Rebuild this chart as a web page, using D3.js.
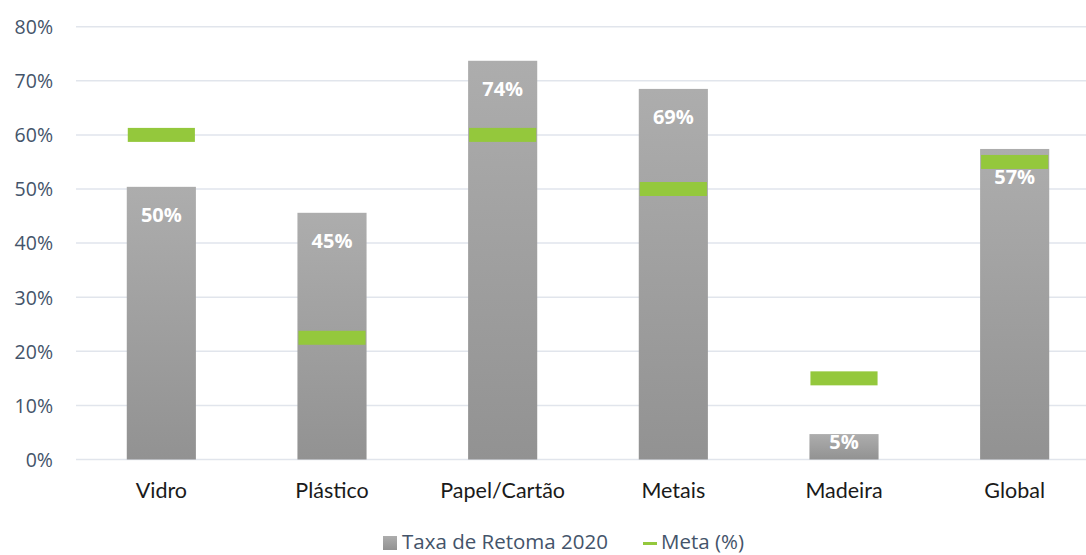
<!DOCTYPE html>
<html><head><meta charset="utf-8">
<script src="https://cdn.jsdelivr.net/npm/d3@7"></script>
<style>body{margin:0;background:#fff;}</style>
</head><body>
<svg id="chart" width="1086" height="555"></svg>
<script>
const categories = ["Vidro","Plástico","Papel/Cartão","Metais","Madeira","Global"];
const taxa2020 = [50.4, 45.6, 73.7, 68.5, 4.7, 57.4];
const labels2020 = ["50%","45%","74%","69%","5%","57%"];
const meta = [60, 22.5, 60, 50, 15, 55];
const yTicks = [0,10,20,30,40,50,60,70,80];
const seriesNames = ["Taxa de Retoma 2020","Meta (%)"];

const svg = d3.select("#chart");
const defs = svg.append("defs");
const grad = defs.append("linearGradient").attr("id","barGrad")
  .attr("x1",0).attr("y1",0).attr("x2",0).attr("y2",1);
grad.append("stop").attr("offset","0%").attr("stop-color","#adadad");
grad.append("stop").attr("offset","100%").attr("stop-color","#929292");

const x = d3.scaleBand().domain(categories).range([76,1100]).paddingInner(0.595).paddingOuter(0.2975);
const y = d3.scaleLinear().domain([0,80]).range([459.5,26.7]);

// gridlines
svg.append("g").selectAll("line").data(yTicks).join("line")
  .attr("x1",76).attr("x2",1086)
  .attr("y1",d=>y(d)).attr("y2",d=>y(d))
  .attr("stroke","#e1e5ec").attr("stroke-width",1.5);

// y axis labels
const yAxis = d3.axisLeft(y).tickValues(yTicks).tickFormat(d=>d+"%").tickSize(0).tickPadding(0);
const ya = svg.append("g").attr("transform","translate(53,0)").call(yAxis);
ya.select(".domain").remove();
ya.selectAll("text").attr("font-family","'Open Sans'").attr("font-size",19.5).attr("fill","#44546a").attr("dy","0.35em");

// bars
svg.append("g").selectAll("rect").data(categories).join("rect")
  .attr("x",d=>x(d)).attr("width",x.bandwidth())
  .attr("y",(d,i)=>y(taxa2020[i])).attr("height",(d,i)=>y(0)-y(taxa2020[i]))
  .attr("fill","url(#barGrad)");

// meta markers
svg.append("g").selectAll("rect").data(categories).join("rect")
  .attr("x",d=>x(d)+1).attr("width",x.bandwidth()-2)
  .attr("y",(d,i)=>y(meta[i])-7).attr("height",14)
  .attr("fill","#94c83c");

// data labels
svg.append("g").selectAll("text").data(categories).join("text")
  .attr("x",d=>x(d)+x.bandwidth()/2)
  .attr("y",(d,i)=>Math.min(y(taxa2020[i])+35, y(0)-11))
  .attr("text-anchor","middle")
  .attr("font-family","'Open Sans'").attr("font-weight","bold").attr("font-size",20)
  .attr("fill","#fff")
  .text((d,i)=>labels2020[i]);

// x axis labels
const xAxis = d3.axisBottom(x).tickSize(0).tickPadding(0);
const xa = svg.append("g").attr("transform","translate(0,498)").call(xAxis);
xa.select(".domain").remove();
xa.selectAll("text").attr("font-family","Lato").attr("font-size",21.5).attr("fill","#1a1a1a").attr("dy",0);

// legend
const lg = svg.append("g");
lg.append("rect").attr("x",383).attr("y",536).attr("width",14).attr("height",14).attr("fill","url(#barGrad)");
lg.append("text").attr("x",402).attr("y",549).attr("font-family","'Open Sans'").attr("font-size",20.5).attr("fill","#44546a").text(seriesNames[0]);
lg.append("rect").attr("x",643).attr("y",542).attr("width",14).attr("height",3).attr("fill","#94c83c");
lg.append("text").attr("x",661).attr("y",549).attr("font-family","'Open Sans'").attr("font-size",20.5).attr("fill","#44546a").text(seriesNames[1]);
</script>
</body></html>
